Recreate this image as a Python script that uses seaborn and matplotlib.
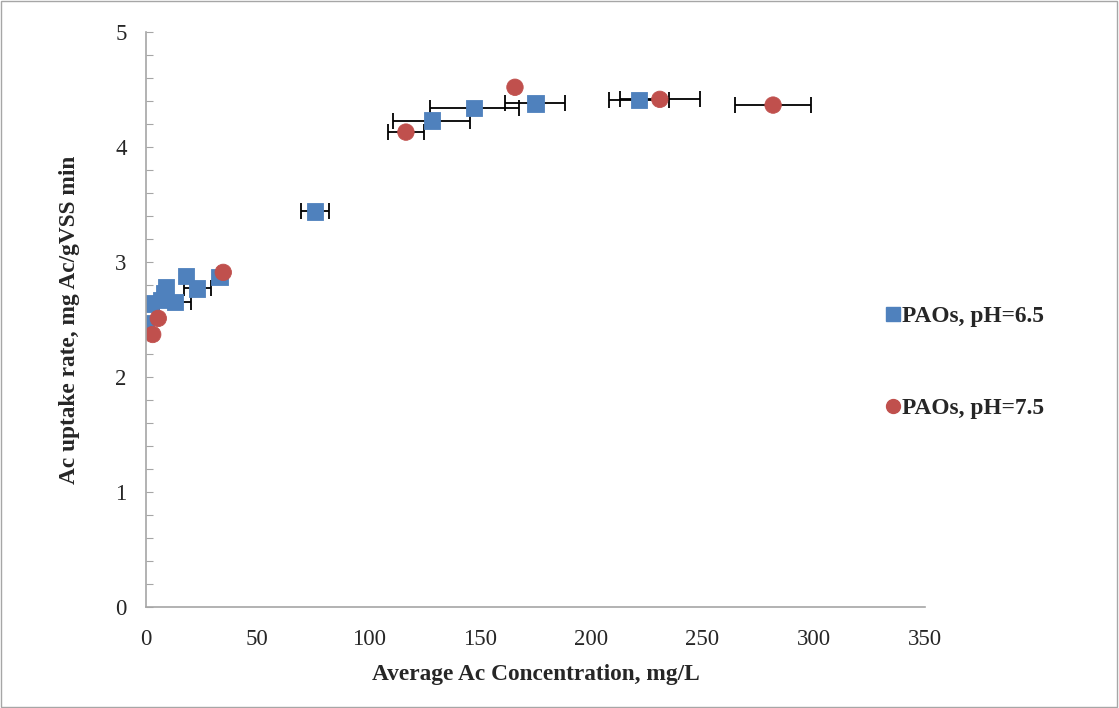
import numpy as np
import pandas as pd
import matplotlib
matplotlib.use("Agg")
import matplotlib.pyplot as plt
from matplotlib.lines import Line2D
from matplotlib.patches import Rectangle
from matplotlib.ticker import MultipleLocator
import seaborn as sns

# PAOs, pH=6.5
x_65 = [0, 2, 7, 8, 9, 13, 18, 23, 33, 76, 128.5, 147.5, 175, 221.5]
y_65 = [2.47, 2.64, 2.67, 2.73, 2.78, 2.65, 2.88, 2.77, 2.87, 3.44, 4.23, 4.34, 4.38, 4.41]
xerr_65 = [0, 0, 0, 0, 0, 7, 0, 6, 0, 6.3, 17.3, 20, 13.5, 13.5]

# PAOs, pH=7.5
x_75 = [3, 5.5, 34.7, 116.8, 165.8, 230.9, 281.8]
y_75 = [2.37, 2.51, 2.91, 4.13, 4.52, 4.415, 4.365]
xerr_75 = [0, 0, 0, 8.1, 0, 18, 16.9]

labels = ["PAOs, pH=6.5", "PAOs, pH=7.5"]
blue = "#4F81BD"
red = "#C0504D"

df = pd.DataFrame({
    "conc": x_65 + x_75,
    "rate": y_65 + y_75,
    "xerr": xerr_65 + xerr_75,
    "series": [labels[0]] * len(x_65) + [labels[1]] * len(x_75),
})

sns.set_style("white")
plt.rcParams["font.family"] = ["Liberation Serif", "DejaVu Serif"]

fig = plt.figure(figsize=(11.19, 7.08), dpi=100)
ax = fig.add_axes([0.1305, 0.1427, 0.696, 0.812])

# error bars behind the markers
for name, sub in df.groupby("series"):
    sub = sub[sub["xerr"] > 0]
    ax.errorbar(sub["conc"], sub["rate"], xerr=sub["xerr"], fmt="none",
                ecolor="black", elinewidth=1.3, capsize=6, capthick=1.3, zorder=1)

sns.scatterplot(data=df, x="conc", y="rate", hue="series", style="series",
                markers={labels[0]: "s", labels[1]: "o"},
                palette={labels[0]: blue, labels[1]: red},
                s=140, linewidth=0.6, edgecolor=None, legend=False, ax=ax, zorder=2)

ax.set_xlim(0, 350)
ax.set_ylim(0, 5)
ax.xaxis.set_major_locator(MultipleLocator(50))
ax.yaxis.set_major_locator(MultipleLocator(1))
ax.yaxis.set_minor_locator(MultipleLocator(0.2))
ax.minorticks_on()
ax.tick_params(axis="x", which="both", length=0, pad=16, labelsize=16.5)
ax.tick_params(axis="y", which="both", direction="in", length=5, width=0.8,
               color="#A6A6A6", pad=14, labelsize=16.5, left=True)

for side in ["top", "right"]:
    ax.spines[side].set_visible(False)
for side in ["left", "bottom"]:
    ax.spines[side].set_color("#A6A6A6")
    ax.spines[side].set_linewidth(1.2)

ax.set_xlabel("Average Ac Concentration, mg/L", fontsize=16.8, fontweight="bold", labelpad=10)
ax.set_ylabel("Ac uptake rate, mg Ac/gVSS min", fontsize=16.8, fontweight="bold", labelpad=25)

handles = [
    Line2D([], [], marker="s", color=blue, linestyle="none", markersize=10),
    Line2D([], [], marker="o", color=red, linestyle="none", markersize=10),
]
fig.legend(handles, labels, loc="center left", bbox_to_anchor=(0.771, 0.488),
           frameon=False, labelspacing=3.05, handletextpad=0.0, handlelength=0.8,
           prop={"weight": "bold", "size": 16.8})

fig.patches.append(Rectangle((0.001, 0.001), 0.997, 0.997, transform=fig.transFigure,
                             fill=False, edgecolor="#A6A6A6", linewidth=1.0))

fig.savefig("out.png", dpi=100)
